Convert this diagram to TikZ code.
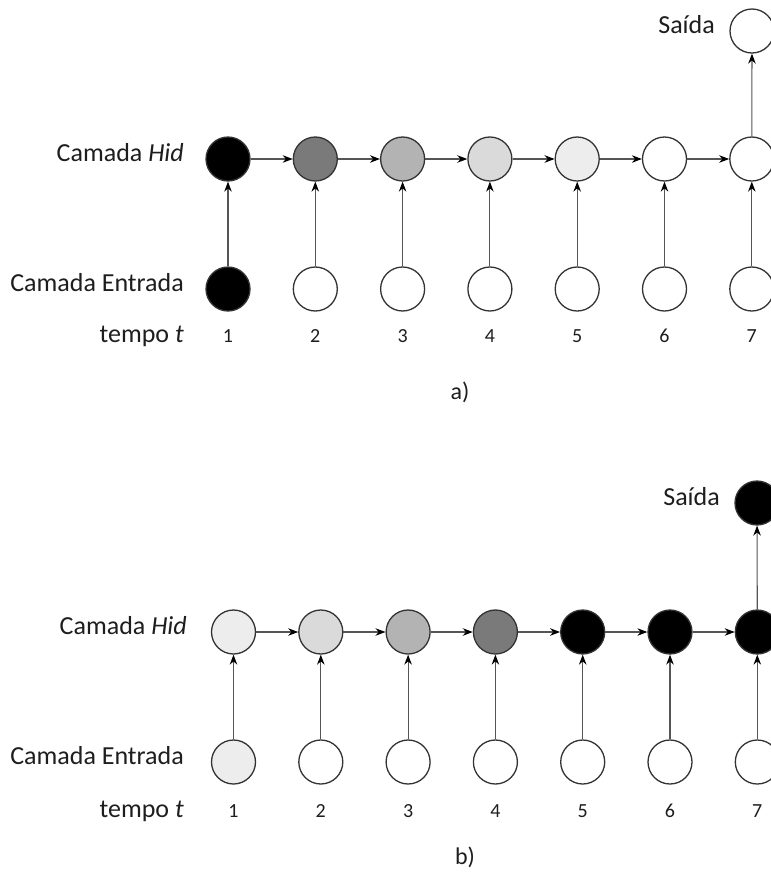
\documentclass[tikz,border=0pt]{standalone}
\usepackage{fontspec}
\setmainfont{Carlito}
\usetikzlibrary{arrows.meta}
\definecolor{shadeA}{HTML}{7A7A7A}
\definecolor{shadeB}{HTML}{B3B3B3}
\definecolor{shadeC}{HTML}{DADADA}
\definecolor{shadeD}{HTML}{EDEDED}
\definecolor{rim}{HTML}{333333}
\definecolor{wire}{HTML}{555555}
\definecolor{ink}{HTML}{1E1E1E}
\begin{document}
\begin{tikzpicture}[x=1pt,y=-1pt,
  unit/.style={circle,draw=rim,line width=1.3pt,minimum size=44pt,inner sep=0pt},
  link/.style={draw=wire,line width=1.1pt,-{Stealth[length=10pt,width=7.5pt,color=black]}},
  lbl/.style={text=ink,font=\fontsize{26}{31}\selectfont,inner sep=0pt,anchor=mid east},
  num/.style={text=ink,font=\fontsize{20}{24}\selectfont,inner sep=0pt,anchor=mid},
  panellabel/.style={text=ink,font=\fontsize{24}{29}\selectfont,inner sep=0pt,anchor=mid}]
\useasboundingbox (0,0) rectangle (771,873);
\clip (0,0) rectangle (771,873);
\fill[white] (0,0) rectangle (771,873);

% ---------- a) ----------
\node[lbl] (aLh) at (184,159) {Camada \textit{Hid}};
\node[lbl] (aLe) at (184,289) {Camada Entrada};
\node[lbl] (aLt) at (184,340) {tempo \textit{t}};
\foreach \i/\hc/\ec [evaluate=\i as \x using {228+87.3*(\i-1)}] in
  {1/black/black,2/shadeA/white,3/shadeB/white,4/shadeC/white,
   5/shadeD/white,6/white/white,7/white/white} {
  \node[unit,fill=\hc] (ah\i) at (\x,159) {};
  \node[unit,fill=\ec] (ae\i) at (\x,289) {};
  \node[num] (at\i) at (\x,340) {\i};
  \draw[link] (ae\i) -- (ah\i);
}
\foreach \i [evaluate=\i as \j using {int(\i+1)}] in {1,...,6}
  \draw[link] (ah\i) -- (ah\j);
\node[unit,fill=white] (aout) at (752,31) {};
\node[lbl] (aLo) at (715,31) {Saída};
\draw[link] (ah7) -- (aout);
\node[panellabel] (acap) at (460,397) {a)};

% ---------- b) ----------
\node[lbl] (bLh) at (187,632) {Camada \textit{Hid}};
\node[lbl] (bLe) at (184,762) {Camada Entrada};
\node[lbl] (bLt) at (184,815) {tempo \textit{t}};
\foreach \i/\hc/\ec [evaluate=\i as \x using {233.5+87.3*(\i-1)}] in
  {1/shadeD/shadeD,2/shadeC/white,3/shadeB/white,4/shadeA/white,
   5/black/white,6/black/white,7/black/white} {
  \node[unit,fill=\hc] (bh\i) at (\x,632) {};
  \node[unit,fill=\ec] (be\i) at (\x,762) {};
  \node[num] (bt\i) at (\x,815) {\i};
  \draw[link] (be\i) -- (bh\i);
}
\foreach \i [evaluate=\i as \j using {int(\i+1)}] in {1,...,6}
  \draw[link] (bh\i) -- (bh\j);
\node[unit,fill=black] (bout) at (757,503) {};
\node[lbl] (bLo) at (720,503) {Saída};
\draw[link] (bh7) -- (bout);
\node[panellabel] (bcap) at (465,862) {b)};
\end{tikzpicture}
\end{document}
